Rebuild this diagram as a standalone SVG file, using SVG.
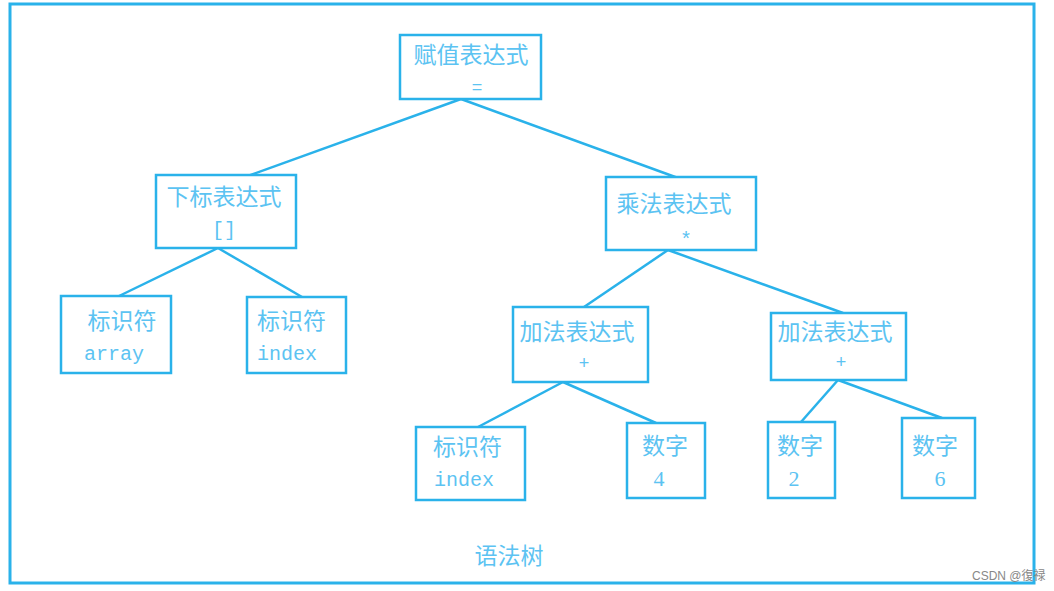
<svg xmlns="http://www.w3.org/2000/svg" width="1054" height="591" viewBox="0 0 1054 591">
<style>
.box{fill:#fff;stroke:#2ab2ea;stroke-width:2.5}
.cn{font-family:"Noto Sans CJK SC","Noto Sans",sans-serif;font-size:23px;fill:#5cc3f2}
.mono{font-family:"Liberation Mono",monospace;font-size:20px;fill:#5cc3f2}
.num{font-family:"Liberation Serif",serif;font-size:22px;fill:#5cc3f2}
.sym{font-family:"Liberation Sans",sans-serif;font-size:18px;fill:#5cc3f2}
.edge{stroke:#2ab2ea;stroke-width:2.5;fill:none}
</style>
<rect width="1054" height="591" fill="#fff"/>
<rect x="10" y="4" width="1024" height="579" fill="none" stroke="#2ab2ea" stroke-width="3"/>
<g id="connectors">
<line class="edge" x1="461" y1="99" x2="245" y2="177"/>
<line class="edge" x1="461" y1="99" x2="678" y2="178"/>
<line class="edge" x1="218" y1="248" x2="117" y2="297"/>
<line class="edge" x1="218" y1="248" x2="302" y2="297"/>
<line class="edge" x1="668" y1="250" x2="584" y2="307"/>
<line class="edge" x1="668" y1="250" x2="843" y2="313"/>
<line class="edge" x1="563" y1="382" x2="478" y2="427"/>
<line class="edge" x1="563" y1="382" x2="656" y2="423"/>
<line class="edge" x1="838" y1="380" x2="801" y2="422"/>
<line class="edge" x1="838" y1="380" x2="942" y2="418"/>
</g>
<g id="root">
<rect class="box" x="400" y="35" width="141" height="64"/>
<text class="cn" x="471" y="63" text-anchor="middle">赋值表达式</text>
<text class="sym" x="477" y="93" text-anchor="middle">=</text>
</g>
<g id="subscript">
<rect class="box" x="156" y="175" width="140" height="73"/>
<text class="cn" x="224" y="205" text-anchor="middle">下标表达式</text>
<text class="mono" x="224" y="236" text-anchor="middle">[]</text>
</g>
<g id="mul">
<rect class="box" x="606" y="177" width="150" height="73"/>
<text class="cn" x="674" y="212" text-anchor="middle">乘法表达式</text>
<text class="mono" x="686" y="246" text-anchor="middle" font-size="22">*</text>
</g>
<g id="id-array">
<rect class="box" x="61" y="296" width="110" height="77"/>
<text class="cn" x="122" y="329" text-anchor="middle">标识符</text>
<text class="mono" x="84" y="360">array</text>
</g>
<g id="id-index1">
<rect class="box" x="247" y="297" width="99" height="76"/>
<text class="cn" x="257" y="329">标识符</text>
<text class="mono" x="257" y="360">index</text>
</g>
<g id="add1">
<rect class="box" x="513" y="307" width="135" height="75"/>
<text class="cn" x="577" y="340" text-anchor="middle">加法表达式</text>
<text class="sym" x="584" y="369" text-anchor="middle">+</text>
</g>
<g id="add2">
<rect class="box" x="771" y="313" width="135" height="67"/>
<text class="cn" x="835" y="340" text-anchor="middle">加法表达式</text>
<text class="sym" x="841" y="368" text-anchor="middle">+</text>
</g>
<g id="id-index2">
<rect class="box" x="416" y="427" width="109" height="73"/>
<text class="cn" x="433" y="455">标识符</text>
<text class="mono" x="434" y="486">index</text>
</g>
<g id="num4">
<rect class="box" x="627" y="423" width="78" height="75"/>
<text class="cn" x="665" y="454" text-anchor="middle">数字</text>
<text class="num" x="659" y="486" text-anchor="middle">4</text>
</g>
<g id="num2">
<rect class="box" x="768" y="422" width="67" height="76"/>
<text class="cn" x="800" y="454" text-anchor="middle">数字</text>
<text class="num" x="794" y="486" text-anchor="middle">2</text>
</g>
<g id="num6">
<rect class="box" x="902" y="418" width="73" height="80"/>
<text class="cn" x="935" y="454" text-anchor="middle">数字</text>
<text class="num" x="940" y="486" text-anchor="middle">6</text>
</g>
<text class="cn" x="509" y="564" text-anchor="middle">语法树</text>
<text x="972" y="580" font-family="'Liberation Sans','Noto Sans CJK SC',sans-serif" font-size="12" fill="#888">CSDN @復禄</text>
</svg>
